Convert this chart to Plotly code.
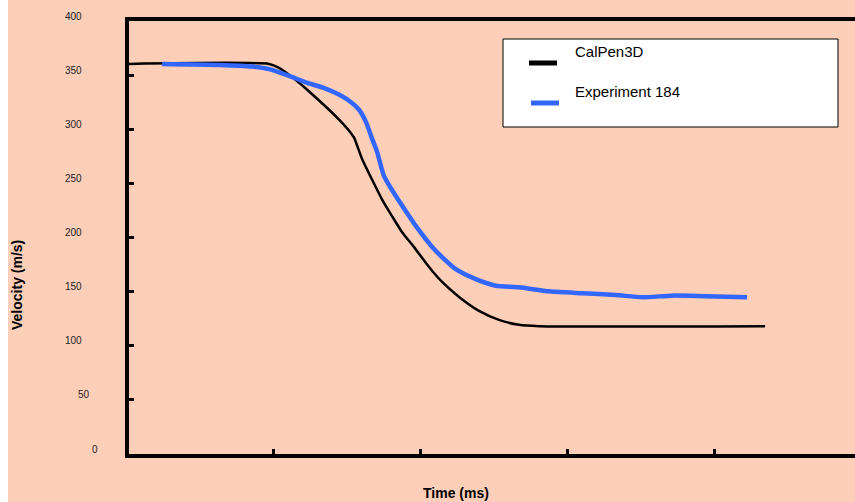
import plotly.graph_objects as go

# ---------------- data ----------------
calpen_t = [0.0, 0.0973, 0.1041, 0.1109, 0.1177, 0.1245, 0.1313, 0.1381, 0.1449,
            0.1529, 0.1551, 0.1607, 0.1673, 0.1741, 0.1810, 0.1878, 0.1959, 0.2061,
            0.2150, 0.2265, 0.2401, 0.2537, 0.2673, 0.2810, 0.4347]
calpen_v = [360.3, 360.3, 356.7, 350.3, 342.9, 334.9, 326.6, 318.0, 308.8,
            296.6, 292.3, 272.0, 253.6, 235.3, 219.6, 204.9, 191.1, 172.7,
            158.9, 145.1, 132.2, 123.9, 119.3, 118.1, 118.1]

exp_t = [0.0245, 0.0633, 0.0857, 0.0973, 0.1109, 0.1222, 0.1335, 0.1427, 0.1517,
         0.1585, 0.1631, 0.1676, 0.1707, 0.1755, 0.1835, 0.1925, 0.1971, 0.2095,
         0.2243, 0.2379, 0.2515, 0.2673, 0.2878, 0.3102, 0.3331, 0.3510, 0.3714,
         0.3944, 0.4224]
exp_v = [360.3, 359.4, 357.9, 355.5, 349.3, 343.3, 338.7, 333.4, 326.3,
         318.0, 307.0, 290.4, 279.4, 256.7, 238.3, 219.9, 210.7, 189.3,
         170.8, 161.6, 155.5, 154.0, 150.3, 148.5, 146.9, 144.8, 146.3,
         145.7, 144.8]

series_names = ["CalPen3D", "Experiment 184"]
y_tick_values = [0, 50, 100, 150, 200, 250, 300, 350, 400]
x_tick_values = [0.1, 0.2, 0.3, 0.4]
x_title = "Time (ms)"
y_title = "Velocity (m/s)"

# ---------------- layout geometry ----------------
W, H = 855, 502
ML, MR, MT, MB = 129, 0, 21, 48
PW, PH = W - ML - MR, H - MT - MB
PEACH = "#FDCFB8"
BLUE = "#3366FF"
FONT = "Liberation Sans, Arial, sans-serif"
X0 = 0.002
X1 = X0 + PW / 1470.0


def px(x):
    return (x - ML) / PW


def py(y):
    return (H - MB - y) / PH


fig = go.Figure()
fig.add_trace(go.Scatter(x=calpen_t, y=calpen_v, mode="lines", name=series_names[0],
                         line=dict(color="black", width=2.5, shape="spline", smoothing=0.6),
                         showlegend=False, cliponaxis=False))
fig.add_trace(go.Scatter(x=exp_t, y=exp_v, mode="lines", name=series_names[1],
                         line=dict(color=BLUE, width=4.5, shape="spline", smoothing=0.6),
                         showlegend=False))

shapes = [
    # white strip at the far left of the page
    dict(type="rect", xref="paper", yref="paper", x0=px(0), x1=px(8), y0=py(H), y1=py(0),
         fillcolor="white", line=dict(width=0), layer="below"),
    # legend box
    dict(type="rect", xref="paper", yref="paper", x0=px(503), x1=px(838), y0=py(127), y1=py(39),
         fillcolor="white", line=dict(color="black", width=1)),
    dict(type="line", xref="paper", yref="paper", x0=px(529), x1=px(557), y0=py(63), y1=py(63),
         line=dict(color="black", width=5)),
    dict(type="line", xref="paper", yref="paper", x0=px(531), x1=px(559), y0=py(103), y1=py(103),
         line=dict(color=BLUE, width=5)),
]

annotations = []
for v in y_tick_values:
    s = str(v)
    annotations.append(dict(text=s, xref="paper", yref="y", x=px(84 + 8 * (3 - len(s))), y=v,
                            xanchor="right", yanchor="middle", yshift=5, showarrow=False,
                            font=dict(family=FONT, size=10, color="#222")))
annotations.append(dict(text="<b>%s</b>" % x_title, xref="paper", yref="paper", x=px(456), y=py(493),
                        xanchor="center", yanchor="middle", showarrow=False,
                        font=dict(family=FONT, size=14, color="black")))
annotations.append(dict(text="<b>%s</b>" % y_title, xref="paper", yref="paper", x=px(17), y=py(285),
                        xanchor="center", yanchor="middle", showarrow=False, textangle=-90,
                        font=dict(family=FONT, size=14, color="black")))
annotations.append(dict(text=series_names[0], xref="paper", yref="paper", x=px(573), y=py(51),
                        xanchor="left", yanchor="middle", showarrow=False,
                        font=dict(family=FONT, size=15, color="black")))
annotations.append(dict(text=series_names[1], xref="paper", yref="paper", x=px(573), y=py(91),
                        xanchor="left", yanchor="middle", showarrow=False,
                        font=dict(family=FONT, size=15, color="black")))

fig.update_layout(
    width=W, height=H,
    margin=dict(l=ML, r=MR, t=MT, b=MB, pad=0),
    paper_bgcolor=PEACH, plot_bgcolor=PEACH,
    showlegend=False,
    shapes=shapes, annotations=annotations,
    font=dict(family=FONT),
    xaxis=dict(range=[X0, X1], showline=True, linewidth=4, linecolor="black", mirror=True,
               ticks="inside", ticklen=5, tickwidth=3, tickcolor="black",
               tickvals=x_tick_values, showticklabels=False, showgrid=False, zeroline=False,
               fixedrange=True),
    yaxis=dict(range=[0, 400], showline=True, linewidth=4, linecolor="black", mirror=False,
               ticks="inside", ticklen=5, tickwidth=3, tickcolor="black",
               tickvals=y_tick_values[1:-1], showticklabels=False, showgrid=False, zeroline=False,
               fixedrange=True),
)

fig.write_html("out.html", config={"displayModeBar": False})
